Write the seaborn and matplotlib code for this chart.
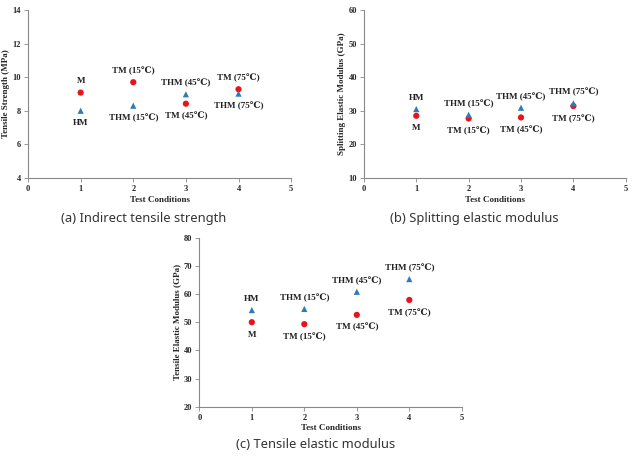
import seaborn as sns
import numpy as np
import pandas as pd
import matplotlib.pyplot as plt

conditions = [1, 2, 3, 4]

# red circles (M / TM) and blue triangles (HM / THM)
tm_labels = ["M", "TM (15℃)", "TM (45℃)", "TM (75℃)"]
thm_labels = ["HM", "THM (15℃)", "THM (45℃)", "THM (75℃)"]

strength_tm = [9.08, 9.70, 8.42, 9.28]
strength_thm = [8.00, 8.30, 8.98, 9.02]

split_tm = [28.5, 27.7, 28.0, 31.4]
split_thm = [30.5, 28.8, 30.9, 32.2]

tensile_tm = [50.0, 49.3, 52.6, 57.9]
tensile_thm = [54.3, 54.7, 60.8, 65.3]

panels = [
    (strength_tm, strength_thm, "Tensile Strength (MPa)", (4, 14), 2,
     "(a) Indirect tensile strength"),
    (split_tm, split_thm, "Splitting Elastic Modulus (GPa)", (10, 60), 10,
     "(b) Splitting elastic modulus"),
    (tensile_tm, tensile_thm, "Tensile Elastic Modulus (GPa)", (20, 80), 10,
     "(c) Tensile elastic modulus"),
]

sns.set_style("white")
plt.rcParams['font.family'] = ['Liberation Serif', 'DejaVu Serif', 'DejaVu Sans']

fig = plt.figure(figsize=(6.34, 4.61), dpi=100)
boxes = [[0.0442, 0.614, 0.415, 0.3644],
         [0.574, 0.614, 0.413, 0.3644],
         [0.3144, 0.1178, 0.414, 0.3666]]
captions = [(0.227, 0.527), (0.748, 0.527), (0.498, 0.035)]

red = "#e8141c"
blue = "#2f79bd"

for (tm, thm, ylab, ylim, ystep, cap), box, cpos in zip(panels, boxes, captions):
    ax = fig.add_axes(box)
    df = pd.DataFrame({
        "cond": conditions * 2,
        "value": tm + thm,
        "series": ["TM"] * 4 + ["THM"] * 4,
    })
    sns.scatterplot(data=df, x="cond", y="value", hue="series", style="series",
                    palette={"TM": red, "THM": blue},
                    markers={"TM": "o", "THM": "^"},
                    s=20, linewidth=0, legend=False, ax=ax)
    for i in range(4):
        hi = tm[i] > thm[i]
        ax.annotate(tm_labels[i], (conditions[i], tm[i]), textcoords="offset points",
                    xytext=(0, 8 if hi else -9), ha="center",
                    va="center", fontsize=6.5, fontweight="bold", color="#222222")
        ax.annotate(thm_labels[i], (conditions[i], thm[i]), textcoords="offset points",
                    xytext=(0, -9 if hi else 8), ha="center",
                    va="center", fontsize=6.5, fontweight="bold", color="#222222")
    ax.set_xlim(0, 5)
    ax.set_ylim(*ylim)
    ax.set_xticks(range(0, 6))
    ax.set_yticks(np.arange(ylim[0], ylim[1] + 0.1, ystep))
    ax.set_xlabel("Test Conditions", fontsize=6.5, fontweight="bold", labelpad=2)
    ax.set_ylabel(ylab, fontsize=6.5, fontweight="bold", labelpad=2)
    ax.tick_params(axis="both", labelsize=6, length=3, width=0.6, pad=2,
                   direction="out", color="#888888", left=True, bottom=True)
    for lab in ax.get_xticklabels() + ax.get_yticklabels():
        lab.set_fontweight("bold")
    sns.despine(ax=ax)
    for sp in ["left", "bottom"]:
        ax.spines[sp].set_color("#888888")
        ax.spines[sp].set_linewidth(0.8)
    fig.text(cpos[0], cpos[1], cap, ha="center", va="center", fontsize=9.3,
             family=["Noto Sans", "DejaVu Sans"], color="#333333")

plt.savefig("out.png", dpi=100)
